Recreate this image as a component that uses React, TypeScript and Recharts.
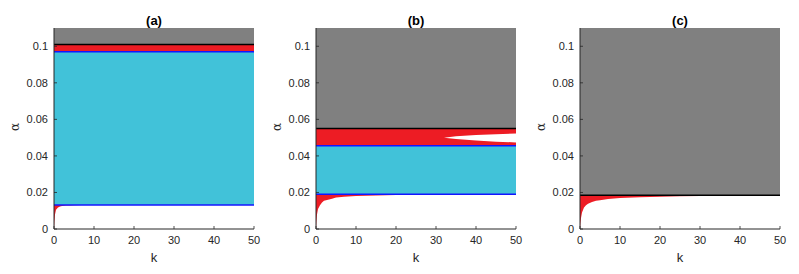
import React from 'react';
import { ComposedChart, Area, XAxis, YAxis, ReferenceLine } from 'recharts';

// ---- data ----
const kValues = [0, 0.1, 0.25, 0.5, 1, 1.5, 2, 3, 4, 5, 7, 10, 15, 20, 25, 30, 32, 35, 40, 45, 50];
const curveA = [0, 0.004, 0.008, 0.0105, 0.0118, 0.0123, 0.0126, 0.0128, 0.0129, 0.013, 0.0131, 0.0131, 0.0131, 0.0131, 0.0131, 0.0131, 0.0131, 0.0131, 0.0131, 0.0131, 0.0131];
const curveB = [0, 0.004, 0.008, 0.011, 0.013, 0.0145, 0.0155, 0.016, 0.0165, 0.0172, 0.0176, 0.018, 0.0184, 0.0186, 0.0187, 0.0188, 0.0188, 0.0189, 0.0189, 0.019, 0.019];
const curveC = [0, 0.003, 0.006, 0.009, 0.0118, 0.013, 0.0138, 0.0148, 0.0154, 0.0158, 0.0164, 0.0169, 0.0174, 0.0177, 0.0179, 0.018, 0.018, 0.0181, 0.0182, 0.0183, 0.0183];
const wedgeLowB: (number | null)[] = [null, null, null, null, null, null, null, null, null, null, null, null, null, null, null, null, 0.05, 0.0492, 0.0484, 0.0478, 0.0474];
const wedgeHighB: (number | null)[] = [null, null, null, null, null, null, null, null, null, null, null, null, null, null, null, null, 0.05, 0.0508, 0.0514, 0.0519, 0.0523];

const yTop = 0.11;
const bandsA = { grayLo: 0.101, redLo: 0.097, cyanLo: 0.0132 };
const bandsB = { grayLo: 0.055, redLo: 0.0455, cyanLo: 0.019 };
const bandsC = { grayLo: 0.0185 };

const xTicks = [0, 10, 20, 30, 40, 50];
const yTicks = [0, 0.02, 0.04, 0.06, 0.08, 0.1];
const yTickLabels = ['0', '0.02', '0.04', '0.06', '0.08', '0.1'];
const titles = ['(a)', '(b)', '(c)'];
const xLabel = 'k';
const yLabel = 'α';

// ---- colors ----
const GRAY = '#808080';
const RED = '#ED1C24';
const CYAN = '#41C2D9';
const BLUE = '#1414FF';
const AXIS = '#262626';
const FONT = '"Liberation Sans", Arial, sans-serif';

const rowsA = kValues.map((k, i) => ({
  k,
  gray: [bandsA.grayLo, yTop],
  red: [bandsA.redLo, bandsA.grayLo],
  cyan: [bandsA.cyanLo, bandsA.redLo],
  low: [curveA[i], bandsA.cyanLo],
}));
const rowsB = kValues.map((k, i) => ({
  k,
  gray: [bandsB.grayLo, yTop],
  red: [bandsB.redLo, bandsB.grayLo],
  cyan: [bandsB.cyanLo, bandsB.redLo],
  low: [curveB[i], bandsB.cyanLo],
  wedge: wedgeLowB[i] == null ? null : [wedgeLowB[i], wedgeHighB[i]],
}));
const rowsC = kValues.map((k, i) => ({
  k,
  gray: [bandsC.grayLo, yTop],
  low: [curveC[i], bandsC.grayLo],
}));

const YTickLeft = (props: any) => {
  const { x, y, payload } = props;
  const ax = x + 6;
  const idx = yTicks.indexOf(payload.value);
  return (
    <g>
      <line x1={ax} x2={ax + 3} y1={y} y2={y} stroke={AXIS} strokeWidth={0.8} />
      <text x={x} y={y} dy="0.35em" textAnchor="end" fontSize={11} fill={AXIS} fontFamily={FONT}>
        {idx >= 0 ? yTickLabels[idx] : String(payload.value)}
      </text>
    </g>
  );
};
const YTickRight = (props: any) => {
  const { x, y } = props;
  return <line x1={x} x2={x - 3} y1={y} y2={y} stroke={AXIS} strokeWidth={0.8} />;
};
const XTickBottom = (props: any) => {
  const { x, y, payload } = props;
  const ay = y - 7;
  return (
    <g>
      <line x1={x} x2={x} y1={ay} y2={ay - 3} stroke={AXIS} strokeWidth={0.8} />
      <text x={x} y={y} dy="0.71em" textAnchor="middle" fontSize={11} fill={AXIS} fontFamily={FONT}>
        {String(payload.value)}
      </text>
    </g>
  );
};
const XTickTop = (props: any) => {
  const { x, y } = props;
  return <line x1={x} x2={x} y1={y} y2={y + 3} stroke={AXIS} strokeWidth={0.8} />;
};

type AreaSpec = { key: string; fill: string };
type LineSpec = { y: number; color: string };

const Panel = ({ left, title, rows, areas, lines }: { left: number; title: string; rows: any[]; areas: AreaSpec[]; lines: LineSpec[] }) => (
  <div style={{ position: 'absolute', left, top: 0, width: 264, height: 274 }}>
    <div
      style={{
        position: 'absolute', left: 54, top: 13, width: 200, textAlign: 'center',
        fontFamily: FONT, fontWeight: 'bold', fontSize: 13, lineHeight: '15px', color: '#000',
      }}
    >
      {title}
    </div>
    <div
      style={{
        position: 'absolute', left: 54, top: 250, width: 200, textAlign: 'center',
        fontFamily: FONT, fontSize: 13, lineHeight: '15px', color: AXIS,
      }}
    >
      {xLabel}
    </div>
    <div
      style={{
        position: 'absolute', left: 9, top: 121, width: 12, height: 12,
        transform: 'rotate(-90deg)', fontFamily: '"DejaVu Serif", serif', fontSize: 12, lineHeight: '12px',
        color: AXIS, textAlign: 'center',
      }}
    >
      {yLabel}
    </div>
    <ComposedChart width={264} height={274} data={rows} margin={{ top: 28, right: 10, left: 0, bottom: 0 }}>
      {areas.map((a) => (
        <Area
          key={a.key}
          dataKey={a.key}
          type="linear"
          fill={a.fill}
          fillOpacity={1}
          stroke="none"
          isAnimationActive={false}
          connectNulls={false}
          dot={false}
          activeDot={false}
        />
      ))}
      {lines.map((l, i) => (
        <ReferenceLine key={i} y={l.y} stroke={l.color} strokeWidth={1.5} ifOverflow="visible" />
      ))}
      <XAxis
        dataKey="k"
        type="number"
        domain={[0, 50]}
        ticks={xTicks}
        allowDataOverflow
        height={45}
        tickSize={0}
        tickMargin={7}
        tick={<XTickBottom />}
        axisLine={{ stroke: AXIS }}
        tickLine={false}
        interval={0}
      />
      <XAxis
        xAxisId="top"
        orientation="top"
        dataKey="k"
        type="number"
        domain={[0, 50]}
        ticks={xTicks}
        height={0}
        tickSize={0}
        tickMargin={0}
        tick={<XTickTop />}
        axisLine={{ stroke: AXIS }}
        tickLine={false}
        interval={0}
      />
      <YAxis
        type="number"
        domain={[0, yTop]}
        ticks={yTicks}
        allowDataOverflow
        width={54}
        tickSize={0}
        tickMargin={6}
        tick={<YTickLeft />}
        axisLine={{ stroke: AXIS }}
        tickLine={false}
        interval={0}
      />
      <YAxis
        yAxisId="right"
        orientation="right"
        type="number"
        domain={[0, yTop]}
        ticks={yTicks}
        width={0}
        tickSize={0}
        tickMargin={0}
        tick={<YTickRight />}
        axisLine={{ stroke: AXIS }}
        tickLine={false}
        interval={0}
      />
    </ComposedChart>
  </div>
);

export default function App() {
  return (
    <div style={{ position: 'absolute', left: 0, top: 0, width: 799, height: 274, background: '#fff' }}>
      <Panel
        left={0}
        title={titles[0]}
        rows={rowsA}
        areas={[
          { key: 'gray', fill: GRAY },
          { key: 'red', fill: RED },
          { key: 'cyan', fill: CYAN },
          { key: 'low', fill: RED },
        ]}
        lines={[
          { y: bandsA.grayLo, color: '#000' },
          { y: bandsA.redLo, color: BLUE },
          { y: bandsA.cyanLo, color: BLUE },
        ]}
      />
      <Panel
        left={262}
        title={titles[1]}
        rows={rowsB}
        areas={[
          { key: 'gray', fill: GRAY },
          { key: 'red', fill: RED },
          { key: 'wedge', fill: '#fff' },
          { key: 'cyan', fill: CYAN },
          { key: 'low', fill: RED },
        ]}
        lines={[
          { y: bandsB.grayLo, color: '#000' },
          { y: bandsB.redLo, color: BLUE },
          { y: bandsB.cyanLo, color: BLUE },
        ]}
      />
      <Panel
        left={526}
        title={titles[2]}
        rows={rowsC}
        areas={[
          { key: 'gray', fill: GRAY },
          { key: 'low', fill: RED },
        ]}
        lines={[{ y: bandsC.grayLo, color: '#000' }]}
      />
    </div>
  );
}
